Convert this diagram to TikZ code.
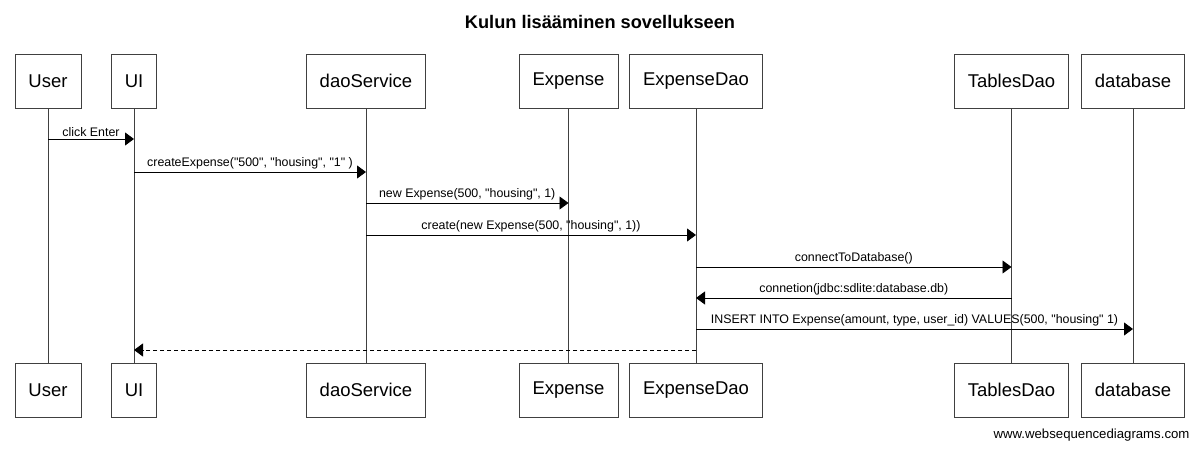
\documentclass[tikz,border=0pt]{standalone}
\usepackage{fontspec}
\setmainfont{Liberation Sans}[Ligatures=TeXOff]
\usetikzlibrary{arrows.meta}
\tikzset{
	actor/.style={draw=black!75, fill=white, line width=0.9pt, minimum height=54pt, inner xsep=13.5pt, font=\fontsize{18.5}{22}\selectfont},
	life/.style={draw=black!75, line width=0.9pt},
	msg/.style={draw=black, line width=0.9pt, -{Triangle[length=9pt,width=13pt]}},
	reply/.style={msg, dash pattern=on 4pt off 3pt},
	lbl/.style={above, inner sep=2pt, font=\fontsize{12.4}{14}\selectfont}
}

\begin{document}
\begin{tikzpicture}[x=1pt, y=-1pt]
		%%%%% START %%%%%
		\useasboundingbox (0,0) rectangle (1200,449);
		
		\node[font=\bfseries\fontsize{18.2}{21}\selectfont] (title) at (600, 22) {Kulun lisääminen sovellukseen};
		
		% participants, top row
		\node[actor] (user) at (48, 81) {User};
		\node[actor] (ui) at (134, 81) {UI};
		\node[actor] (dao) at (366, 81) {daoService};
		\node[actor] (exp) at (568.5, 81) {Expense};
		\node[actor] (expdao) at (696, 81) {ExpenseDao};
		\node[actor] (tables) at (1011.5, 81) {TablesDao};
		\node[actor] (db) at (1133, 81) {database};
		
		% participants, bottom row
		\node[actor] (user2) at (48, 390) {User};
		\node[actor] (ui2) at (134, 390) {UI};
		\node[actor] (dao2) at (366, 390) {daoService};
		\node[actor] (exp2) at (568.5, 390) {Expense};
		\node[actor] (expdao2) at (696, 390) {ExpenseDao};
		\node[actor] (tables2) at (1011.5, 390) {TablesDao};
		\node[actor] (db2) at (1133, 390) {database};
		
		% lifelines
		\foreach \a in {user,ui,dao,exp,expdao,tables,db}
			\draw[life] (\a.south) -- (\a2.north);
		
		% message rows
		\coordinate (m1) at (0, 139);
		\coordinate (m2) at (0, 172);
		\coordinate (m3) at (0, 203);
		\coordinate (m4) at (0, 235);
		\coordinate (m5) at (0, 267);
		\coordinate (m6) at (0, 298);
		\coordinate (m7) at (0, 329);
		\coordinate (m8) at (0, 350);
		
		\draw[msg] (user |- m1) -- node[lbl] {click Enter} (ui |- m1);
		\draw[msg] (ui |- m2) -- node[lbl] {createExpense("500", "housing", "1" )} (dao |- m2);
		\draw[msg] (dao |- m3) -- node[lbl] {new Expense(500, "housing", 1)} (exp |- m3);
		\draw[msg] (dao |- m4) -- node[lbl] {create(new Expense(500, "housing", 1))} (expdao |- m4);
		\draw[msg] (expdao |- m5) -- node[lbl] {connectToDatabase()} (tables |- m5);
		\draw[msg] (tables |- m6) -- node[lbl] {connetion(jdbc:sdlite:database.db)} (expdao |- m6);
		\draw[msg] (expdao |- m7) -- node[lbl] {INSERT INTO Expense(amount, type, user\_id) VALUES(500, "housing" 1)} (db |- m7);
		\draw[reply] (expdao |- m8) -- (ui |- m8);
		
		\node[anchor=east, font=\fontsize{13.2}{15}\selectfont] (credit) at (1193, 435) {www.websequencediagrams.com};
		%%%%% END %%%%%
\end{tikzpicture}
\end{document}
